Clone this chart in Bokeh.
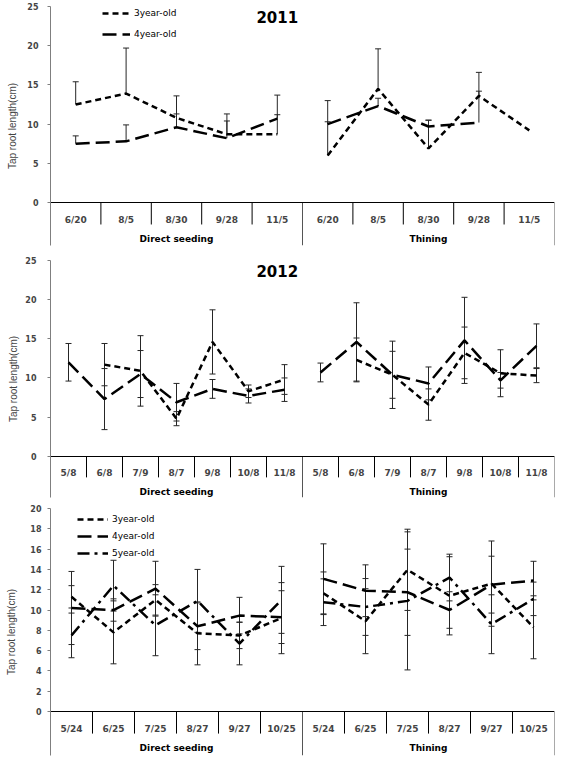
import math
from bokeh.plotting import figure
from bokeh.models import (FactorRange, Range1d, FixedTicker, ColumnDataSource, Whisker,
                          TeeHead, Legend, LegendItem, Label)
from bokeh.layouts import column
from bokeh.embed import file_html
from bokeh.resources import INLINE

nan = float("nan")

# ---------------- data ----------------
groups = ["Direct seeding", "Thining"]

# 2011
dates_2011 = ["6/20", "8/5", "8/30", "9/28", "11/5"]
y3_2011_direct = [12.5, 13.9, 10.8, 8.7, 8.7]
y3_2011_thin = [6.0, 14.5, 6.9, 13.6, 9.2]
y4_2011_direct = [7.5, 7.8, 9.6, 8.2, 10.7]
y4_2011_thin = [10.0, 12.3, 9.7, 10.2, nan]
e3_2011_direct = [2.9, 5.8, 2.8, 2.6, 2.5]
e3_2011_thin = [7.0, 5.1, 3.6, 3.0, nan]
e4_2011_direct = [1.0, 2.1, 1.7, 2.2, 3.0]
e4_2011_thin = [0.3, 1.0, 0.8, 4.0, nan]

# 2012
dates_2012 = ["5/8", "6/8", "7/9", "8/7", "9/8", "10/8", "11/8"]
y3_2012_direct = [nan, 11.7, 10.9, 4.8, 14.6, 8.3, 9.8]
e3_2012_direct = [nan, 2.7, 4.5, 0.9, 4.1, 0.8, 1.9]
y4_2012_direct = [12.0, 7.3, 10.5, 6.9, 8.6, 7.7, 8.5]
e4_2012_direct = [2.4, 3.9, 3.0, 2.4, 1.2, 0.9, 1.5]
y3_2012_thin = [nan, 12.3, 10.4, 6.6, 13.2, 10.6, 10.3]
e3_2012_thin = [nan, 2.8, 3.0, 2.0, 3.3, 3.0, 0.9]
y4_2012_thin = [10.7, 14.6, 10.4, 9.3, 14.8, 9.7, 14.1]
e4_2012_thin = [1.2, 5.0, 4.3, 2.1, 5.5, 1.0, 2.8]

# third panel
dates_3 = ["5/24", "6/25", "7/25", "8/27", "9/27", "10/25"]
y3_3_direct = [11.3, 7.8, 11.0, 7.7, 7.5, 9.2]
e3_3_direct = [1.1, 3.1, 1.5, 3.1, 1.3, 3.5]
y4_3_direct = [10.2, 10.0, 12.1, 8.4, 9.45, 9.3]
e4_3_direct = [3.6, 1.1, 2.7, 2.3, 1.8, 2.6]
y5_3_direct = [7.5, 12.4, 8.5, 10.9, 6.7, 11.0]
e5_3_direct = [2.2, 2.5, 3.0, 3.1, 2.1, 3.3]
y3_3_thin = [11.65, 8.9, 13.96, 11.4, 12.6, 8.3]
e3_3_thin = [2.1, 3.2, 4.0, 3.85, 4.2, 3.1]
y4_3_thin = [13.07, 11.9, 11.75, 10.0, 12.5, 12.9]
e4_3_thin = [3.45, 2.55, 4.25, 1.8, 2.8, 1.9]
y5_3_thin = [10.77, 10.3, 10.9, 13.2, 8.6, 11.1]
e5_3_thin = [2.3, 2.8, 6.8, 2.3, 2.9, 1.65]

series_names = ["3year-old", "4year-old", "5year-old"]

# ---------------- styles ----------------
DASH = {"3year-old": "6 4", "4year-old": "14 6", "5year-old": "12 5 3 5"}
FONT = "DejaVu Sans"


def make_panel(dates, series, ymax, ystep, ybottom, label_row, width, height,
               borders, tick_standoff, label_standoff, title=None, title_xy=None,
               legend_cfg=None, plus_only=False):
    n = len(dates)
    factors = [(g, d) for g in groups for d in dates]
    x_range = FactorRange(*factors, factor_padding=0, group_padding=0,
                          subgroup_padding=0, range_padding=0)
    left, right, top, bottom = borders
    p = figure(x_range=x_range, y_range=Range1d(ybottom, ymax), width=width, height=height,
               output_backend="svg", toolbar_location=None,
               min_border_left=left, min_border_right=right,
               min_border_top=top, min_border_bottom=bottom)
    p.outline_line_color = None
    p.xgrid.visible = False
    p.ygrid.visible = False
    p.background_fill_color = "white"

    # y axis
    ya = p.yaxis[0]
    ya.ticker = FixedTicker(ticks=list(range(0, ymax + 1, ystep)))
    ya.bounds = (ybottom, ymax)
    ya.axis_line_color = "#7f7f7f"
    ya.major_tick_line_color = "#7f7f7f"
    ya.major_tick_out = 3
    ya.major_tick_in = 0
    ya.minor_tick_line_color = None
    ya.major_label_text_font = FONT
    ya.major_label_text_font_style = "bold"
    ya.major_label_text_font_size = "8px"
    ya.major_label_standoff = tick_standoff
    ya.axis_label = "Tap root length(cm)"
    ya.axis_label_text_font = "Liberation Sans"
    ya.axis_label_text_font_style = "normal"
    ya.axis_label_text_font_size = "10px"
    ya.axis_label_standoff = label_standoff

    # x axis at y = 0
    xa = p.xaxis[0]
    xa.fixed_location = 0
    xa.axis_line_color = "black"
    xa.axis_line_width = 1
    xa.major_tick_line_color = None
    xa.minor_tick_line_color = None
    xa.major_label_text_font = FONT
    xa.major_label_text_font_style = "bold"
    xa.major_label_text_font_size = "9px"
    xa.major_label_standoff = 6
    xa.group_text_font = FONT
    xa.group_text_font_style = "bold"
    xa.group_text_font_size = "9px"
    xa.group_text_color = "black"
    if hasattr(xa, "separator_line_color"):
        xa.separator_line_color = None

    # category table separators
    xs_small = [gi * n + i for gi in range(len(groups)) for i in range(1, n)]
    p.segment(x0=xs_small, y0=[0] * len(xs_small), x1=xs_small, y1=[label_row] * len(xs_small),
              line_color="black", line_width=1)
    xs_big = [gi * n for gi in range(1, len(groups) + 1)]
    p.segment(x0=xs_big, y0=[0] * len(xs_big), x1=xs_big, y1=[ybottom] * len(xs_big),
              line_color="#555555", line_width=1)

    renderers = {}
    for name, per_group in series:
        for gi, g in enumerate(groups):
            vals, errs = per_group[gi]
            xs = [(g, d) for d in dates]
            r = p.line(x=xs, y=vals, line_color="black", line_width=2.5,
                       line_dash=DASH[name], line_cap="butt")
            renderers.setdefault(name, r)
            bx, lo, hi = [], [], []
            for d, v, e in zip(dates, vals, errs):
                if math.isnan(v) or math.isnan(e):
                    continue
                bx.append((g, d))
                lo.append(v if plus_only else v - e)
                hi.append(v + e)
            src = ColumnDataSource(dict(base=bx, lower=lo, upper=hi))
            w = Whisker(source=src, base="base", lower="lower", upper="upper",
                        line_color="#262626", line_width=1,
                        upper_head=TeeHead(size=6, line_color="#262626", line_width=1),
                        lower_head=None if plus_only else TeeHead(size=6, line_color="#262626", line_width=1))
            p.add_layout(w)

    if title:
        p.add_layout(Label(x=title_xy[0], y=title_xy[1], text=title, text_font=FONT,
                           text_font_style="bold", text_font_size="15px",
                           text_color="black",
                           text_align="center", text_baseline="middle"))

    if legend_cfg:
        loc, spacing, gw = legend_cfg
        items = [LegendItem(label=nm, renderers=[renderers[nm]]) for nm, _ in series]
        lg = Legend(items=items, location=loc, orientation="vertical",
                    glyph_width=gw, glyph_height=12, label_height=12,
                    label_standoff=4, spacing=spacing, padding=0, margin=0,
                    border_line_color=None, background_fill_alpha=0,
                    label_text_font=FONT, label_text_font_size="9px",
                    label_text_color="black")
        p.add_layout(lg)
    return p


p1 = make_panel(
    dates_2011,
    [("3year-old", [(y3_2011_direct, e3_2011_direct), (y3_2011_thin, e3_2011_thin)]),
     ("4year-old", [(y4_2011_direct, e4_2011_direct), (y4_2011_thin, e4_2011_thin)])],
    ymax=25, ystep=5, ybottom=-5.48, label_row=-2.8, width=562, height=250,
    borders=(50, 3, 6, 5), tick_standoff=9, label_standoff=6,
    title="2011", title_xy=(4.5, 23.6),
    legend_cfg=((52, 205), 9, 28), plus_only=True)

p2 = make_panel(
    dates_2012,
    [("3year-old", [(y3_2012_direct, e3_2012_direct), (y3_2012_thin, e3_2012_thin)]),
     ("4year-old", [(y4_2012_direct, e4_2012_direct), (y4_2012_thin, e4_2012_thin)])],
    ymax=25, ystep=5, ybottom=-5.27, label_row=-2.7, width=562, height=250,
    borders=(49, 3, 10, 3), tick_standoff=11, label_standoff=3,
    title="2012", title_xy=(6.3, 23.7))

p3 = make_panel(
    dates_3,
    [("3year-old", [(y3_3_direct, e3_3_direct), (y3_3_thin, e3_3_thin)]),
     ("4year-old", [(y4_3_direct, e4_3_direct), (y4_3_thin, e4_3_thin)]),
     ("5year-old", [(y5_3_direct, e5_3_direct), (y5_3_thin, e5_3_thin)])],
    ymax=20, ystep=2, ybottom=-4.33, label_row=-2.17, width=562, height=260,
    borders=(41, 8, 8, 5), tick_standoff=6, label_standoff=10,
    legend_cfg=((27, 196), 5, 31))

layout = column(p1, p2, p3, spacing=0)
open("out.html", "w").write(file_html(layout, INLINE))
